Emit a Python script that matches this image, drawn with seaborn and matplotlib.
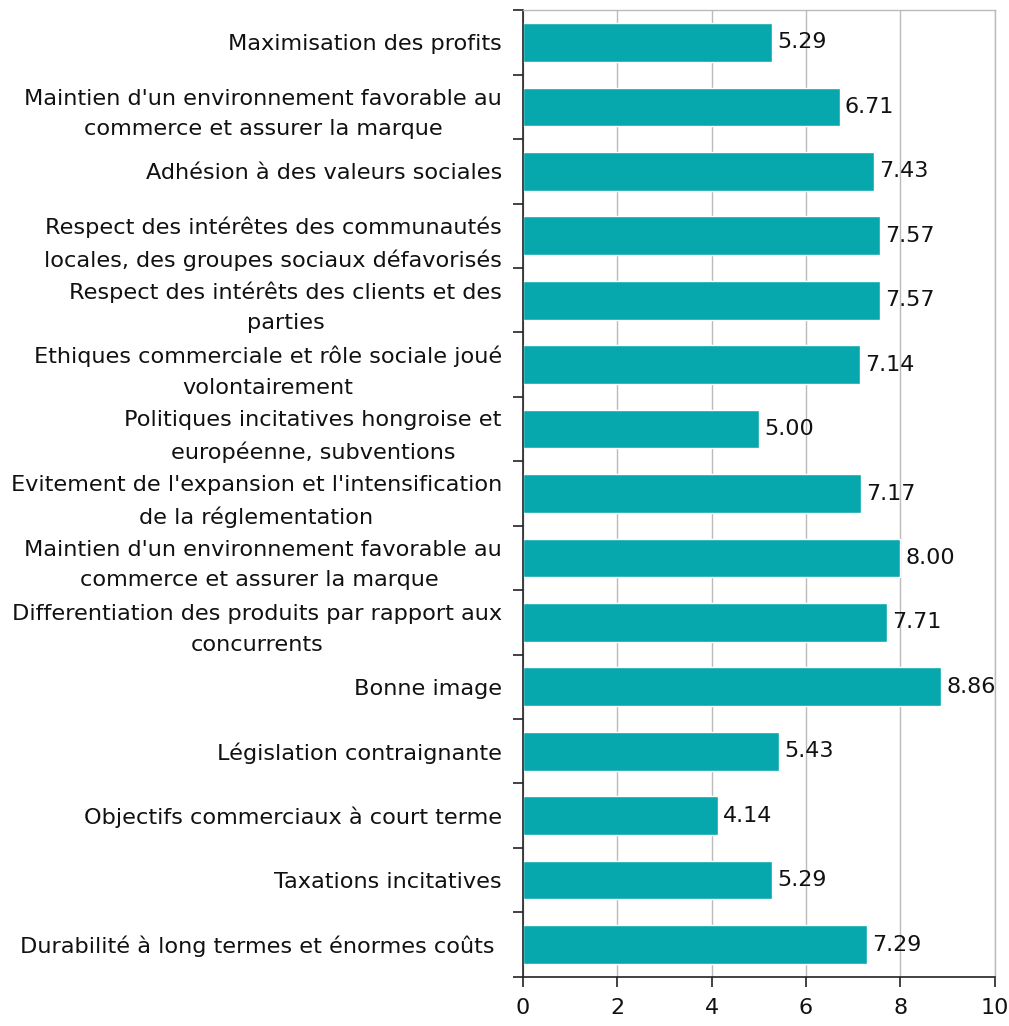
import matplotlib
matplotlib.use("Agg")
import matplotlib.pyplot as plt
import seaborn as sns
import pandas as pd

categories = [
    "Maximisation des profits",
    "Maintien d'un environnement favorable au\ncommerce et assurer la marque",
    "Adhésion à des valeurs sociales",
    "Respect des intérêtes des communautés\nlocales, des groupes sociaux défavorisés",
    "Respect des intérêts des clients et des\nparties",
    "Ethiques commerciale et rôle sociale joué\nvolontairement",
    "Politiques incitatives hongroise et\neuropéenne, subventions",
    "Evitement de l'expansion et l'intensification\nde la réglementation",
    "Maintien d'un environnement favorable au\ncommerce et assurer la marque ",
    "Differentiation des produits par rapport aux\nconcurrents",
    "Bonne image",
    "Législation contraignante",
    "Objectifs commerciaux à court terme",
    "Taxations incitatives",
    "Durabilité à long termes et énormes coûts ",
]
values = [5.29, 6.71, 7.43, 7.57, 7.57, 7.14, 5.00, 7.17, 8.00, 7.71, 8.86, 5.43, 4.14, 5.29, 7.29]
x_ticks = [0, 2, 4, 6, 8, 10]

df = pd.DataFrame({"cat": categories, "val": values})

sns.set_theme(style="white")
plt.rcParams["font.family"] = ["DejaVu Sans"]

fig = plt.figure(figsize=(10.09, 10.26), dpi=100)
ax = fig.add_axes([0.518, 0.048, 0.468, 0.942])

sns.barplot(data=df, y="cat", x="val", orient="h", color="#06A8AE",
            saturation=1, width=0.6, ax=ax, order=categories)

for i, v in enumerate(values):
    ax.text(v + 0.11, i, f"{v:.2f}", va="center", ha="left", fontsize=16, color="#111111")

ax.set_xlim(0, 10)
ax.set_ylim(len(categories) - 0.5, -0.5)
ax.set_xticks(x_ticks)
ax.set_xticklabels([str(t) for t in x_ticks], fontsize=16, color="#111111")
ax.set_yticks(range(len(categories)))
ax.set_yticklabels(categories, fontsize=16.1, multialignment="center",
                   linespacing=1.65, color="#111111")
ax.set_xlabel("")
ax.set_ylabel("")

# grid
ax.xaxis.grid(True, color="#BBBBBB", linewidth=1)
ax.set_axisbelow(True)

# tick styling: y ticks at category boundaries
ax.tick_params(axis="y", which="major", left=True, length=0, pad=15)
ax.set_yticks([i - 0.5 for i in range(len(categories) + 1)], minor=True)
ax.tick_params(axis="y", which="minor", left=True, length=7, width=1.2, color="#222222", direction="out")
ax.tick_params(axis="x", which="major", bottom=True, length=7, width=1.2, color="#222222", direction="out", pad=8)

for s in ["left", "bottom"]:
    ax.spines[s].set_color("#222222")
    ax.spines[s].set_linewidth(1.2)
for s in ["top", "right"]:
    ax.spines[s].set_color("#BBBBBB")
    ax.spines[s].set_linewidth(1)

fig.savefig("out.png", dpi=100)
